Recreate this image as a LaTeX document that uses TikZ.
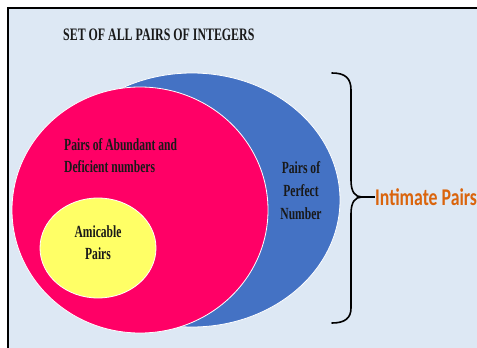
\documentclass[tikz,border=0pt]{standalone}
\usepackage{fontspec}
\setmainfont{Liberation Serif}[FakeStretch=0.68]
\newfontfamily\intimatefont{Carlito}[FakeStretch=0.74]
\definecolor{pagebg}{RGB}{221,232,244}
\definecolor{perfectblue}{RGB}{68,114,196}
\definecolor{abundantpink}{RGB}{255,0,102}
\definecolor{amicableyellow}{RGB}{255,255,102}
\definecolor{intimateorange}{RGB}{218,100,12}
\tikzset{
	label/.style={inner sep=0pt, font=\bfseries\fontsize{17}{22}\selectfont, text=black!90},
}
\begin{document}
\begin{tikzpicture}[x=1pt, y=-1pt]
	\useasboundingbox (0,0) rectangle (477,348);
	\fill[white] (0,0) rectangle (477,348);
	\fill[pagebg] (8,8) rectangle (477,348);
	\draw[line width=2pt] (8,348) -- (8,8) -- (477,8);

	\draw (63,40) node[label, anchor=base west, font=\bfseries\fontsize{17.5}{18}\selectfont] (title) {SET OF ALL PAIRS OF INTEGERS};

	% the three sets
	\draw[fill=perfectblue, draw=white, line width=0.8pt] (192,200) ellipse (148pt and 127pt);
	\draw[fill=abundantpink, draw=white, line width=0.8pt] (140,210) ellipse (128pt and 123pt);
	\draw[fill=amicableyellow, draw=white, line width=0.8pt] (98,248) ellipse (58pt and 50pt);

	\draw (64,156) node[label, anchor=west, align=left] (abundant) {Pairs of Abundant and\\Deficient numbers};
	\draw (98,243) node[label, align=center] (amicable) {Amicable\\Pairs};
	\draw (301,191) node[label, align=center, font=\bfseries\fontsize{17}{23}\selectfont] (perfect) {Pairs of\\Perfect\\Number};

	% brace
	\draw[line width=1.6pt, line cap=round] (332,73) .. controls (345,73) and (351,78) .. (351,90) -- (351,180)
		.. controls (351,192) and (355,197) .. (362,197) coordinate (bracetip)
		.. controls (355,197) and (351,202) .. (351,214) -- (351,308)
		.. controls (351,318) and (345,323) .. (332,323);
	\draw (375,197) node[anchor=west, inner sep=0pt, text=intimateorange, font=\intimatefont\bfseries\fontsize{24}{26}\selectfont] (intimate) {Intimate Pairs};
	\draw[line width=1.6pt] (bracetip) -- (intimate.west);
\end{tikzpicture}
\end{document}
